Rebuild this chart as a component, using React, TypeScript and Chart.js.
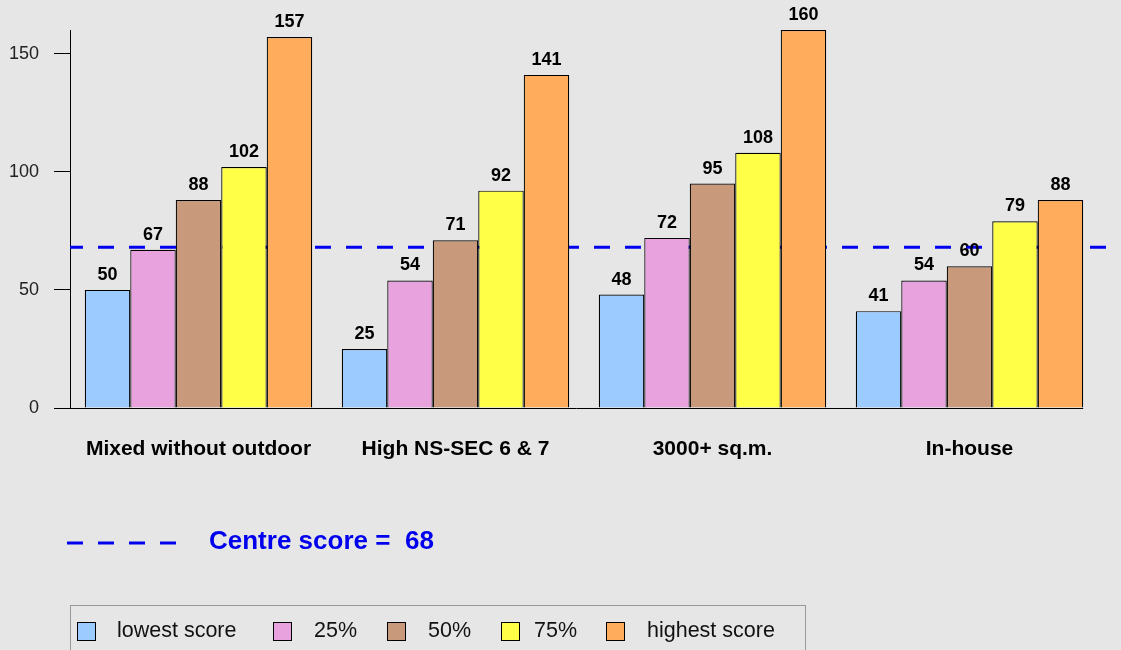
import React, { useEffect, useRef } from 'react';
import { Chart, registerables } from 'chart.js';

Chart.register(...registerables);

const categories = ['Mixed without outdoor', 'High NS-SEC 6 & 7', '3000+ sq.m.', 'In-house'];
const seriesNames = ['lowest score', '25%', '50%', '75%', 'highest score'];
const lowestScore = [50, 25, 48, 41];
const pct25 = [67, 54, 72, 54];
const pct50 = [88, 71, 95, 60];
const pct75 = [102, 92, 108, 79];
const highestScore = [157, 141, 160, 88];
const centreScore = 68;
const yTickValues = [0, 50, 100, 150];
const yMax = 160;
const seriesColors = ['#9ccbff', '#e8a3df', '#c8997a', '#ffff47', '#ffad5c'];

const FONT = '"Liberation Sans", Arial, Helvetica, sans-serif';
const BG = '#e6e6e6';
const legendSquareX = [77, 273, 387, 501, 606];
const legendTextX = [117, 314, 428, 534, 647];

const overlayPlugin = {
  id: 'overlay',
  beforeDraw(chart: any) {
    const ctx = chart.ctx;
    ctx.save();
    ctx.fillStyle = BG;
    ctx.fillRect(0, 0, chart.width, chart.height);
    ctx.restore();
  },
  beforeDatasetsDraw(chart: any) {
    const ctx = chart.ctx;
    const y = chart.scales.y.getPixelForValue(centreScore);
    ctx.save();
    ctx.strokeStyle = '#0000ee';
    ctx.lineWidth = 3;
    ctx.setLineDash([16, 15]);
    ctx.lineDashOffset = 3;
    ctx.beginPath();
    ctx.moveTo(chart.chartArea.left, y);
    ctx.lineTo(chart.width - 8, y);
    ctx.stroke();
    ctx.restore();
  },
  afterDatasetsDraw(chart: any) {
    const ctx = chart.ctx;
    ctx.save();
    // value labels
    ctx.fillStyle = '#000';
    ctx.font = `bold 18px ${FONT}`;
    ctx.textAlign = 'center';
    ctx.textBaseline = 'alphabetic';
    chart.data.datasets.forEach((ds: any, di: number) => {
      const meta = chart.getDatasetMeta(di);
      meta.data.forEach((bar: any, i: number) => {
        ctx.fillText(String(ds.data[i]), bar.x, bar.y - 10);
      });
    });

    // x axis line (to end of last bar)
    const lastMeta = chart.getDatasetMeta(chart.data.datasets.length - 1);
    const lastBar = lastMeta.data[lastMeta.data.length - 1];
    const xEnd = lastBar.x + lastBar.width / 2;
    const yb = chart.scales.y.getPixelForValue(0);
    ctx.strokeStyle = '#000';
    ctx.lineWidth = 1;
    ctx.beginPath();
    ctx.moveTo(chart.chartArea.left, Math.round(yb) + 0.5);
    ctx.lineTo(xEnd, Math.round(yb) + 0.5);
    ctx.stroke();

    // centre score legend
    ctx.strokeStyle = '#0000ee';
    ctx.lineWidth = 3;
    ctx.setLineDash([16, 15]);
    ctx.beginPath();
    ctx.moveTo(67, 543);
    ctx.lineTo(180, 543);
    ctx.stroke();
    ctx.setLineDash([]);
    ctx.fillStyle = '#0000ee';
    ctx.font = `bold 26px ${FONT}`;
    ctx.textAlign = 'left';
    ctx.textBaseline = 'middle';
    ctx.fillText('Centre score =', 209, 542);
    ctx.fillText(String(centreScore), 405, 542);

    // series legend
    ctx.strokeStyle = '#999';
    ctx.lineWidth = 1;
    ctx.strokeRect(70.5, 605.5, 735, 60);
    ctx.font = `21.5px ${FONT}`;
    seriesNames.forEach((name, i) => {
      const x = legendSquareX[i];
      ctx.fillStyle = seriesColors[i];
      ctx.fillRect(x, 622, 19, 19);
      ctx.strokeStyle = '#000';
      ctx.strokeRect(x + 0.5, 622.5, 18, 18);
      ctx.fillStyle = '#111';
      ctx.fillText(name, legendTextX[i], 631);
    });
    ctx.restore();
  },
};

export default function App() {
  const canvasRef = useRef<HTMLCanvasElement | null>(null);

  useEffect(() => {
    if (!canvasRef.current) return;
    const seriesData = [lowestScore, pct25, pct50, pct75, highestScore];
    const chart = new Chart(canvasRef.current, {
      type: 'bar',
      data: {
        labels: categories,
        datasets: seriesData.map((d, i) => ({
          label: seriesNames[i],
          data: d,
          backgroundColor: seriesColors[i],
          borderColor: '#000',
          borderWidth: 1.2,
          barPercentage: 1,
          categoryPercentage: 0.885,
        })),
      },
      options: {
        animation: false,
        responsive: false,
        maintainAspectRatio: false,
        layout: { padding: { top: 30, right: 23, bottom: 0, left: 0 } },
        plugins: {
          legend: { display: false },
          title: { display: false },
          tooltip: { enabled: false },
        },
        scales: {
          x: {
            grid: { display: false, drawTicks: false },
            border: { display: false },
            ticks: {
              color: '#000',
              font: { family: FONT, size: 21, weight: 'bold' },
              padding: 29,
              maxRotation: 0,
              autoSkip: false,
            },
            afterFit(scale: any) {
              scale.height = 242;
            },
          },
          y: {
            min: 0,
            max: yMax,
            grid: { drawOnChartArea: false, drawTicks: true, tickLength: 16, color: '#000' },
            border: { display: true, color: '#000', width: 1 },
            ticks: {
              stepSize: 50,
              color: '#222',
              padding: 15,
              font: { family: FONT, size: 18 },
            },
            afterBuildTicks(scale: any) {
              scale.ticks = yTickValues.map((v) => ({ value: v }));
            },
            afterFit(scale: any) {
              scale.width = 70;
            },
          },
        },
      },
      plugins: [overlayPlugin],
    } as any);
    return () => chart.destroy();
  }, []);

  return (
    <div style={{ position: 'fixed', left: 0, top: 0, width: 1121, height: 650, background: BG }}>
      <canvas ref={canvasRef} width={1121} height={650} style={{ display: 'block' }} />
    </div>
  );
}
